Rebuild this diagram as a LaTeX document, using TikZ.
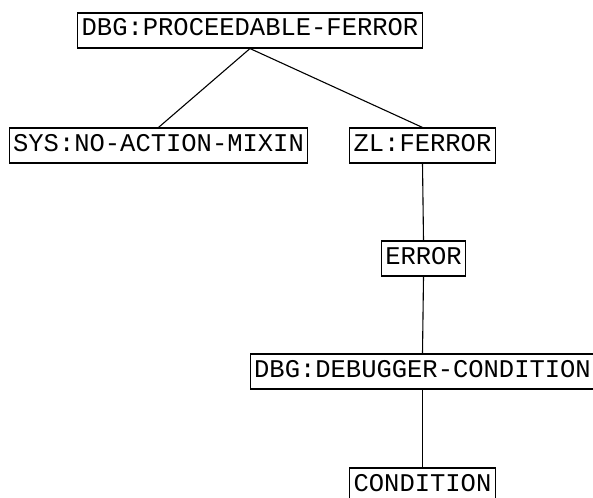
\documentclass[tikz,border=0pt]{standalone}
\usepackage{fontspec}
\setmonofont{Liberation Mono}
\usepackage{tikz}
\tikzset{cls/.style={draw, line width=1.1pt, font=\ttfamily\fontsize{25.5}{26}\selectfont, inner xsep=4pt, inner ysep=0pt, text height=23pt, text depth=12pt, anchor=base}}

\begin{document}
\begin{tikzpicture}[x=1pt,y=-1pt,line width=1.1pt]
\useasboundingbox (0,0) rectangle (593,497);
\clip (0,0) rectangle (593,497);
\node [cls] (top) at (250,36) {DBG:PROCEEDABLE-FERROR};
\node [cls] (sys) at (158.5,151) {SYS:NO-ACTION-MIXIN};
\node [cls] (zl) at (422.5,151) {ZL:FERROR};
\node [cls] (err) at (423.5,264) {ERROR};
\node [cls] (dbgc) at (422.5,377) {DBG:DEBUGGER-CONDITION};
\node [cls] (cond) at (422.5,491) {CONDITION};
\draw (top.south) -- (sys.north); \draw (top.south) -- (zl.north);
\draw (zl.south) -- (err.north);
\draw (err.south) -- (dbgc.north);
\draw (dbgc.south) -- (cond.north);
\end{tikzpicture}
\end{document}
